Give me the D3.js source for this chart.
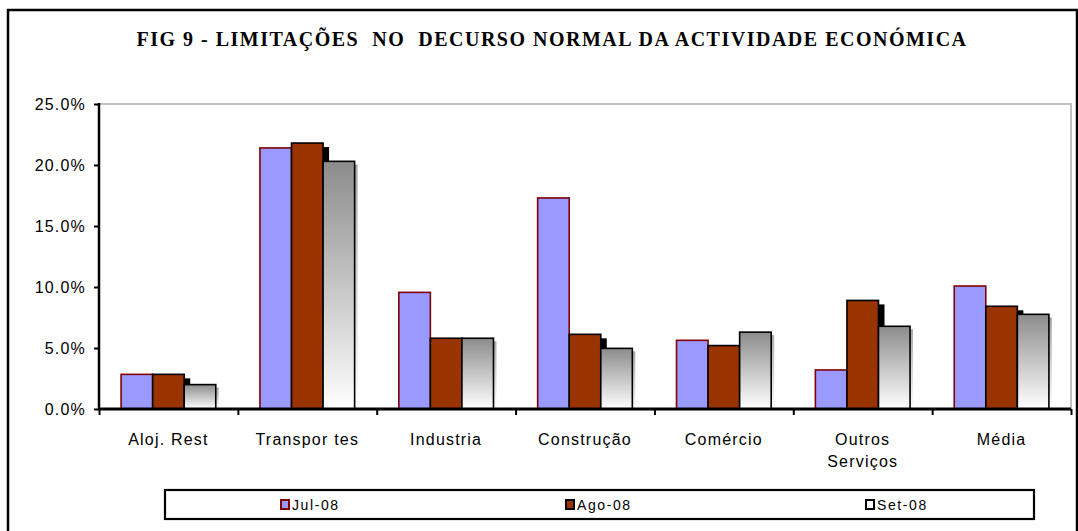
<!DOCTYPE html>
<html>
<head>
<meta charset="utf-8">
<script src="https://cdn.jsdelivr.net/npm/d3@7"></script>
<style>
  body { margin: 0; background: #fff; }
  text { font-family: Arial, "Liberation Sans", sans-serif; }
</style>
</head>
<body>
<div id="chart"></div>
<script>
// data
var categories = ["Aloj. Rest", "Transpor tes", "Industria", "Construção", "Comércio", "Outros Serviços", "Média"];
var seriesNames = ["Jul-08", "Ago-08", "Set-08"];
var jul = [0.0284, 0.214, 0.0956, 0.173, 0.0563, 0.032, 0.1008];
var ago = [0.0284, 0.218, 0.058, 0.0612, 0.052, 0.089, 0.0842];
var set = [0.020, 0.203, 0.058, 0.0497, 0.063, 0.0678, 0.0776];
var yTicks = [0, 0.05, 0.10, 0.15, 0.20, 0.25];

var w = 1078;
var h = 531;

// plot area edges
var pLeft = 99, pRight = 1071, pTop = 104, pBottom = 409;

var svg = d3.select("#chart")
    .append("svg")
    .attr("width", w)
    .attr("height", h);

var defs = svg.append("defs");
var grad = defs.append("linearGradient")
    .attr("id", "setGrad")
    .attr("x1", 0).attr("y1", 0).attr("x2", 0).attr("y2", 1);
grad.append("stop").attr("offset", "0%").attr("stop-color", "#8c8c8c");
grad.append("stop").attr("offset", "100%").attr("stop-color", "#ffffff");

var gradSh = defs.append("linearGradient")
    .attr("id", "shGrad")
    .attr("x1", 0).attr("y1", 0).attr("x2", 0).attr("y2", 1);
gradSh.append("stop").attr("offset", "0%").attr("stop-color", "#a8a8a8");
gradSh.append("stop").attr("offset", "100%").attr("stop-color", "#ffffff");

// outer frame
svg.append("rect")
    .attr("x", 8).attr("y", 10)
    .attr("width", 1069).attr("height", 540)
    .attr("fill", "none")
    .attr("stroke", "#000")
    .attr("stroke-width", 2.5);

// title
svg.append("text")
    .attr("x", 552).attr("y", 46)
    .attr("text-anchor", "middle")
    .style("font-family", "'Times New Roman', 'Liberation Serif', serif")
    .style("font-weight", "bold")
    .style("font-size", "20px")
    .style("letter-spacing", "1.5px")
    .attr("xml:space", "preserve")
    .text("FIG 9 - LIMITAÇÕES  NO  DECURSO NORMAL DA ACTIVIDADE ECONÓMICA");

var x = d3.scaleBand()
    .domain(categories)
    .range([pLeft, pRight]);

var inner = d3.scaleBand()
    .domain(seriesNames)
    .range([0, x.bandwidth()])
    .paddingOuter(0.7)
    .paddingInner(0);

var y = d3.scaleLinear()
    .domain([0, 0.25])
    .range([pBottom, pTop]);

// plot area border (top and right), grey
svg.append("path")
    .attr("d", "M" + pLeft + "," + pTop + "H" + pRight + "V" + pBottom)
    .attr("fill", "none")
    .attr("stroke", "#c0c0c0")
    .attr("stroke-width", 2);

var series = [
    {name: "Jul-08", values: jul, fill: "#9999ff", stroke: "#800000", shadow: null},
    {name: "Ago-08", values: ago, fill: "#993300", stroke: "#000", shadow: "#000"},
    {name: "Set-08", values: set, fill: "url(#setGrad)", stroke: "#000", shadow: "url(#shGrad)"}
];

var bars = svg.append("g");

series.forEach(function(s) {
    var d = s.values.map(function(v, i) { return {cat: categories[i], value: v}; });
    var dx = s.name == "Ago-08" ? 6 : 3;
    var dy = s.name == "Ago-08" ? 4 : 3;
    if (s.shadow) {
        bars.selectAll("rect.sh" + s.name)
            .data(d)
            .enter().append("rect")
            .attr("x", function(r) { return x(r.cat) + inner(s.name) + dx; })
            .attr("y", function(r) { return y(r.value) + dy; })
            .attr("width", inner.bandwidth())
            .attr("height", function(r) { return pBottom - y(r.value) - dy; })
            .attr("fill", s.shadow);
    }
    bars.selectAll("rect.b" + s.name)
        .data(d)
        .enter().append("rect")
        .attr("x", function(r) { return x(r.cat) + inner(s.name); })
        .attr("y", function(r) { return y(r.value); })
        .attr("width", inner.bandwidth())
        .attr("height", function(r) { return pBottom - y(r.value); })
        .attr("fill", s.fill)
        .attr("stroke", s.stroke)
        .attr("stroke-width", 1.6);
});

// y axis
var yAxis = d3.axisLeft(y)
    .tickValues(yTicks)
    .tickFormat(d3.format(".1%"))
    .tickSize(5)
    .tickPadding(8);

var gy = svg.append("g")
    .attr("transform", "translate(" + pLeft + ",0)")
    .call(yAxis);
gy.select(".domain").attr("stroke-width", 2.5).attr("d", "M0," + (pTop - 1) + "V" + (pBottom + 1));
gy.selectAll(".tick line").attr("stroke-width", 2);
gy.selectAll(".tick text")
    .style("font-size", "16px")
    .style("letter-spacing", "1.2px")
    .attr("fill", "#000");

// x axis: tick marks between categories
var xTick = d3.scaleLinear().domain([0, categories.length]).range([pLeft, pRight]);
var xAxis = d3.axisBottom(xTick)
    .tickValues(d3.range(categories.length + 1))
    .tickFormat("")
    .tickSize(6);
var gx = svg.append("g")
    .attr("transform", "translate(0," + pBottom + ")")
    .call(xAxis);
gx.select(".domain").attr("stroke-width", 3).attr("d", "M" + pLeft + ",0H" + pRight);
gx.selectAll(".tick line").attr("stroke-width", 2);

// category labels
var labels = svg.append("g");
categories.forEach(function(c) {
    var parts = c == "Outros Serviços" ? ["Outros", "Serviços"] : [c];
    var t = labels.append("text")
        .attr("x", x(c) + x.bandwidth() / 2)
        .attr("y", 445)
        .attr("text-anchor", "middle")
        .style("font-size", "16px")
        .style("letter-spacing", "1.2px")
        .attr("xml:space", "preserve");
    parts.forEach(function(p, i) {
        t.append("tspan")
            .attr("x", x(c) + x.bandwidth() / 2)
            .attr("dy", i == 0 ? 0 : 22)
            .text(p);
    });
});

// legend
svg.append("rect")
    .attr("x", 165).attr("y", 490)
    .attr("width", 869).attr("height", 29)
    .attr("fill", "#fff")
    .attr("stroke", "#000")
    .attr("stroke-width", 2.2);

var legendX = [281, 566, 866];
var lg = svg.append("g");
series.forEach(function(s, i) {
    lg.append("rect")
        .attr("x", legendX[i]).attr("y", 500)
        .attr("width", 8).attr("height", 9)
        .attr("fill", s.name == "Set-08" ? "#fff" : s.fill)
        .attr("stroke", s.name == "Jul-08" ? "#800000" : "#000")
        .attr("stroke-width", 2);
    lg.append("text")
        .attr("x", legendX[i] + 11).attr("y", 510)
        .style("font-size", "14px")
        .style("letter-spacing", "1.6px")
        .text(s.name);
});
</script>
</body>
</html>
